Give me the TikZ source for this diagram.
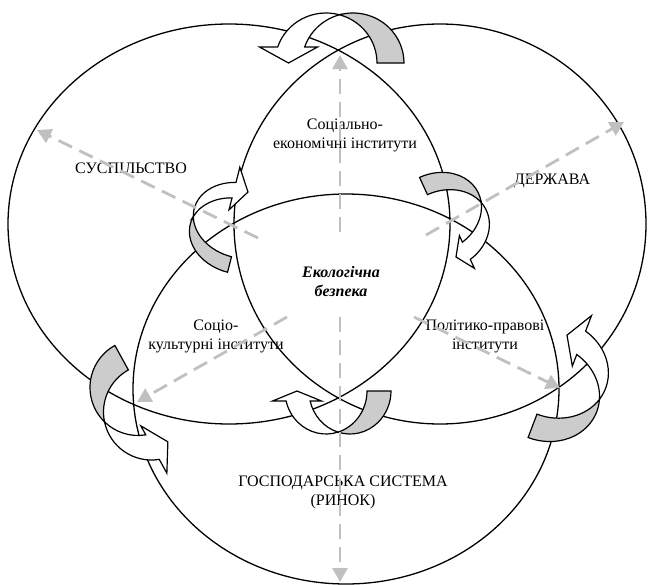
\documentclass[tikz,border=0pt]{standalone}
\usepackage{fontspec}
\setmainfont{Liberation Serif}
\usetikzlibrary{arrows.meta}
\definecolor{ribgray}{HTML}{CCCCCC}
\definecolor{dashgray}{HTML}{C0C0C0}
\newcommand{\crvarrow}[5]{%
  \pgfmathsetmacro{\cvRX}{#1}%
  \pgfmathsetmacro{\cvRY}{#2}%
  \pgfmathsetmacro{\cvH}{#3/2}%
  \pgfmathsetmacro{\cvSA}{acos(\cvH/\cvRX)}%
  \pgfmathsetmacro{\cvTB}{180-\cvSA}%
  \pgfmathsetmacro{\cvYC}{\cvRY*sin(\cvSA)}%
  \pgfmathsetmacro{\cvPH}{180-asin(#4/\cvRY)}%
  \pgfmathsetmacro{\cvPIX}{\cvH+\cvRX*cos(\cvPH)}%
  \filldraw[ribline, fill=ribgray] (0,\cvYC) arc[start angle=\cvTB, end angle=0, x radius=\cvRX, y radius=\cvRY] -- ({\cvRX-\cvH},0) arc[start angle=0, end angle=\cvSA, x radius=\cvRX, y radius=\cvRY] -- cycle;
  \filldraw[ribline, fill=white] (0,\cvYC) arc[start angle=\cvSA, end angle=\cvPH, x radius=\cvRX, y radius=\cvRY] -- ({-\cvRX-#5},#4) -- ({-\cvRX},0) -- ({-\cvRX+#5},#4) -- (\cvPIX,#4) arc[start angle=\cvPH, end angle=\cvTB, x radius=\cvRX, y radius=\cvRY] -- cycle;
}
\begin{document}
\begin{tikzpicture}[x=1pt,y=-1pt,
  ell/.style={draw=black, line width=1.3pt},
  ribline/.style={draw=black, line width=1.2pt, line join=miter},
  dasharrow/.style={draw=dashgray, line width=2.8pt, dash pattern=on 15pt off 8pt, -{Triangle[length=14pt,width=15pt]}},
  lbl/.style={font=\fontsize{16}{19}\selectfont, align=center, inner sep=0pt}]
\useasboundingbox (0,0) rectangle (648,584);
% ellipses
\draw[ell] (229,224) ellipse[x radius=221, y radius=200];
\draw[ell] (440,224) ellipse[x radius=206, y radius=200];
\draw[ell] (346,389) ellipse[x radius=213, y radius=195];
% labels
\node[lbl] (sus) at (131,168) {СУСПІЛЬСТВО};
\node[lbl] (der) at (552,181) {ДЕРЖАВА};
\node[lbl] (soc) at (345,135) {Соціально-\\економічні інститути};
\node[lbl, font=\fontsize{16}{19}\selectfont\bfseries\itshape] (eco) at (341,282) {Екологічна\\безпека};
\node[lbl] (cul) at (216,336) {Соціо-\\культурні інститути};
\node[lbl] (pol) at (485,336) {Політико-правові\\інститути};
\node[lbl] (gos) at (343,492) {ГОСПОДАРСЬКА СИСТЕМА\\(РИНОК)};
% curved ribbon arrows
\begin{scope}[shift={(339.5,63)}, yscale=-1]\crvarrow{51}{50}{27}{16}{29}\end{scope}
\begin{scope}[shift={(238.75,228.25)}, rotate=-104.3]\crvarrow{37.4}{48}{16}{14}{22}\end{scope}
\begin{scope}[shift={(439.75,221.5)}, rotate=114.6]\crvarrow{39}{47}{19}{12}{18}\end{scope}
\begin{scope}[shift={(338,391)}]\crvarrow{41}{43}{24}{10}{24.5}\end{scope}
\begin{scope}[shift={(144.75,399.75)}, rotate=118.8, yscale=-1]\crvarrow{48}{48}{28}{16}{27}\end{scope}
\begin{scope}[shift={(549.75,380.5)}, rotate=-110.8, yscale=-1]\crvarrow{48.5}{55}{25}{16}{27}\end{scope}
% dashed arrows
\coordinate (uS) at (340,232); \coordinate (uE) at (340,55);
\coordinate (dS) at (340,317); \coordinate (dE) at (340,582);
\coordinate (ulS) at (258,238); \coordinate (ulE) at (37,130);
\coordinate (urS) at (426,235); \coordinate (urE) at (624,122);
\coordinate (llS) at (287,317); \coordinate (llE) at (137,402);
\coordinate (lrS) at (414,317); \coordinate (lrE) at (560,388);
\draw[dasharrow] (uS) -- (uE);
\draw[dasharrow] (dS) -- (dE);
\draw[dasharrow] (ulS) -- (ulE);
\draw[dasharrow] (urS) -- (urE);
\draw[dasharrow] (llS) -- (llE);
\draw[dasharrow] (lrS) -- (lrE);
\end{tikzpicture}
\end{document}
